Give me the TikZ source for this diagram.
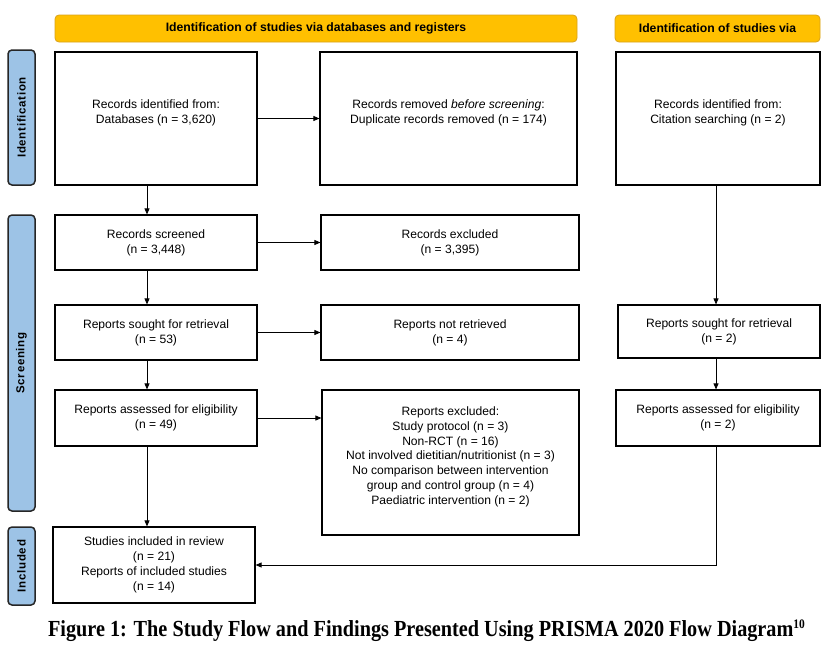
\documentclass[tikz,border=0pt]{standalone}
\usepackage{graphicx}
\usepackage{fontspec}
\setmainfont{Liberation Sans}
\newfontfamily\capfont{Liberation Serif}
\newfontfamily\sidefont[LetterSpace=6]{Liberation Sans}
\usetikzlibrary{arrows.meta,positioning,calc}

\definecolor{gold}{HTML}{FFC000}
\definecolor{goldedge}{HTML}{D9A21B}
\definecolor{phaseblue}{HTML}{9DC3E6}

\begin{document}
\begin{tikzpicture}[x=1pt, y=-1pt,
  box/.style={draw, line width=1.2pt, align=center, inner sep=0pt, font=\fontsize{12.1}{14.8}\selectfont},
  header/.style={draw=goldedge, fill=gold, rounded corners=4pt, line width=0.8pt, minimum height=27pt, inner sep=0pt, font=\bfseries\fontsize{12.2}{14}\selectfont},
  phase/.style={draw=black!85, fill=phaseblue, rounded corners=4pt, line width=1.5pt, rotate=90, minimum height=27pt, inner sep=0pt, font=\sidefont\bfseries\fontsize{11.5}{13}\selectfont},
  flow/.style={-{Triangle[length=6pt,width=5pt]}, line width=0.8pt}
]
\useasboundingbox[fill=white] (0,0) rectangle (834,653);

% headers
\node[header, minimum width=522pt] (hdb) at (316,28.5) {Identification of studies via databases and registers};
\node[header, minimum width=205pt] (hcit) at (717.5,28.5) {Identification of studies via};

% phases
\node[phase, minimum width=135pt] (pid) at (21.5,117.5) {Identification};
\node[phase, minimum width=296pt] (pscr) at (21.5,363) {Screening};
\node[phase, minimum width=78pt] (pinc) at (21.5,566) {Included};

% databases and registers
\node[box, minimum width=202pt, minimum height=133pt] (ident) at (156,118.5) {Records identified from:\\Databases (n = 3,620)\\[-1pt]};
\node[box, minimum width=257pt, minimum height=133pt] (removed) at (448.5,118.5) {Records removed \emph{before screening}:\\Duplicate records removed (n = 174)\\[-1pt]};
\node[box, minimum width=202pt, minimum height=55pt] (screened) at (156,242.5) {Records screened\\(n = 3,448)};
\node[box, minimum width=258pt, minimum height=55pt] (recexcl) at (450,242.5) {Records excluded\\(n = 3,395)};
\node[box, minimum width=202pt, minimum height=55pt] (sought) at (156,332.5) {Reports sought for retrieval\\(n = 53)};
\node[box, minimum width=258pt, minimum height=55pt] (notret) at (450,332.5) {Reports not retrieved\\(n = 4)};
\node[box, minimum width=202pt, minimum height=56pt] (assessed) at (156,418) {Reports assessed for eligibility\\(n = 49)};
\node[box, minimum width=257pt, minimum height=145pt] (repexcl) at (450.5,462.5) {Reports excluded:\\Study protocol (n = 3)\\Non-RCT (n = 16)\\Not involved dietitian/nutritionist (n = 3)\\No comparison between intervention\\group and control group (n = 4)\\Paediatric intervention (n = 2)\\[-1pt]};
\node[box, minimum width=202pt, minimum height=76pt] (included) at (154,565) {Studies included in review\\(n = 21)\\Reports of included studies\\(n = 14)};

% other methods
\node[box, minimum width=204pt, minimum height=133pt] (citid) at (718,118.5) {Records identified from:\\Citation searching (n = 2)\\[-1pt]};
\node[box, minimum width=202pt, minimum height=53pt] (citsought) at (719,331.5) {Reports sought for retrieval\\(n = 2)};
\node[box, minimum width=204pt, minimum height=56pt] (citassessed) at (718,418) {Reports assessed for eligibility\\(n = 2)};

% connectors
\draw[flow] (ident) -- (removed);
\draw[flow] ([xshift=-9pt]ident.south) -- ([xshift=-9pt]screened.north);
\draw[flow] (screened) -- (recexcl);
\draw[flow] ([xshift=-9pt]screened.south) -- ([xshift=-9pt]sought.north);
\draw[flow] (sought) -- (notret);
\draw[flow] ([xshift=-9pt]sought.south) -- ([xshift=-9pt]assessed.north);
\draw[flow] (assessed.east) -- (assessed.east -| repexcl.west);
\draw[flow] ([xshift=-9pt]assessed.south) -- ([xshift=-7pt]included.north);
\draw[flow] ([xshift=-2pt]citid.south) -- ([xshift=-2pt]citid.south |- citsought.north);
\draw[flow] ([xshift=-2pt]citassessed.north |- citsought.south) -- ([xshift=-2pt]citassessed.north);
\draw[flow] ([xshift=-2pt]citassessed.south) |- (included.east);

% caption
\node[font=\capfont\bfseries\fontsize{23}{26}\selectfont] (caption) at (426.5,631) {\scalebox{0.88}[1]{Figure 1: The Study Flow and Findings Presented Using PRISMA 2020 Flow Diagram\raisebox{0.75ex}{\fontsize{13}{13}\selectfont 10}}};

\end{tikzpicture}
\end{document}
